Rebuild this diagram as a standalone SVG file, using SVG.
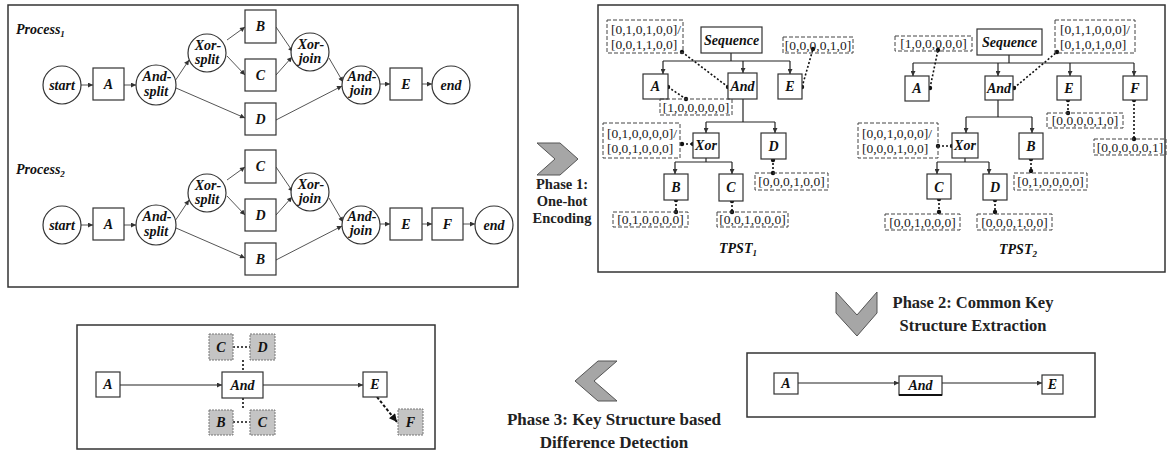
<svg xmlns="http://www.w3.org/2000/svg" width="1168" height="455" viewBox="0 0 1168 455">
<style>
.pnl{fill:#fff;stroke:#333;stroke-width:1.5}
.nd{fill:#fff;stroke:#333;stroke-width:1.2}
.gn{fill:#c4c4c4;stroke:#777;stroke-width:1;stroke-dasharray:2,1}
.t{font-family:"Liberation Serif",serif;font-weight:bold;font-style:italic;font-size:14px;text-anchor:middle;fill:#111}
.lb{font-family:"Liberation Serif",serif;font-size:13.5px;fill:#222}
.c{text-anchor:middle}
.db{fill:none;stroke:#444;stroke-dasharray:4,2;stroke-width:1}
.dl{stroke:#111;stroke-width:1.6;stroke-dasharray:2,2;fill:none}
.ar{stroke:#555;stroke-width:1;fill:none;marker-end:url(#ah)}
.tr{stroke:#222;stroke-width:1.2;fill:none}
.ta{stroke:#222;stroke-width:1.2;fill:none;marker-end:url(#ah)}
.ph{font-family:"Liberation Serif",serif;font-weight:bold;text-anchor:middle;fill:#222}
.chev{fill:#a6a6a6;stroke:#555;stroke-width:1}
.dot{fill:#111}
</style>
<defs>
<marker id="ah" viewBox="0 0 6 6" refX="6" refY="3" markerWidth="6" markerHeight="5" orient="auto" markerUnits="userSpaceOnUse"><path d="M0,0 L6,3 L0,6 z" fill="#333"/></marker>
<marker id="ahb" viewBox="0 0 8 8" refX="8" refY="4" markerWidth="9" markerHeight="8" orient="auto" markerUnits="userSpaceOnUse"><path d="M0,0 L8,4 L0,8 z" fill="#111"/></marker>
</defs>

<!-- Panels -->
<rect class="pnl" x="8" y="5" width="510" height="282"/>
<rect class="pnl" x="598" y="5" width="567" height="267"/>
<rect class="pnl" x="77" y="325" width="358" height="124"/>
<rect class="pnl" x="747" y="353" width="348" height="64"/>

<!-- Chevrons -->
<polygon class="chev" points="537,143 560,143 578,159 560,175 537,175 555,159"/>
<polygon class="chev" points="836,292 857,315 877,292 877,313 857,336 836,313"/>
<polygon class="chev" points="575,381 598,361 617,361 594,381 617,401 598,401"/>

<!-- Phase texts -->
<g id="phase1" class="ph" font-size="14.5px">
<text x="562" y="189">Phase 1:</text>
<text x="562" y="206">One-hot</text>
<text x="562" y="223">Encoding</text>
</g>
<g id="phase2" class="ph" font-size="16.5px">
<text x="973" y="308">Phase 2: Common Key</text>
<text x="973" y="331">Structure Extraction</text>
</g>
<g id="phase3" class="ph" font-size="17px">
<text x="614" y="425">Phase 3: Key Structure based</text>
<text x="614" y="448">Difference Detection</text>
</g>

<!-- Process labels -->
<text class="t" x="16" y="34" style="text-anchor:start" font-size="13">Process<tspan font-size="9" dy="3">1</tspan></text>
<text class="t" x="16" y="174" style="text-anchor:start" font-size="13">Process<tspan font-size="9" dy="3">2</tspan></text>

<!-- Process 1 connectors -->
<g id="p1-connectors">
<line class="ar" x1="81" y1="85" x2="93" y2="85"/>
<line class="ar" x1="124" y1="85" x2="136" y2="85"/>
<line class="ar" x1="175" y1="81" x2="189" y2="60"/>
<line class="ar" x1="227" y1="40" x2="245" y2="27"/>
<line class="ar" x1="227" y1="56" x2="245" y2="75"/>
<line class="ar" x1="176" y1="88" x2="245" y2="118"/>
<line class="ar" x1="276" y1="27" x2="293" y2="52"/>
<line class="ar" x1="276" y1="75" x2="292" y2="57"/>
<line class="ar" x1="329" y1="58" x2="343" y2="82"/>
<line class="ar" x1="276" y1="120" x2="342" y2="86"/>
<line class="ar" x1="380" y1="84" x2="390" y2="84"/>
<line class="ar" x1="422" y1="84" x2="432" y2="84"/>
</g>
<!-- Process 1 nodes -->
<g id="p1-start"><circle class="nd" cx="62" cy="85" r="19"/><text class="t" x="62" y="90">start</text></g>
<g id="p1-A"><rect class="nd" x="93" y="68" width="31" height="32"/><text class="t" x="108.5" y="89">A</text></g>
<g id="p1-andsplit"><circle class="nd" cx="156" cy="85" r="20"/><text class="t" x="157" y="81">And-</text><text class="t" x="156" y="96">split</text></g>
<g id="p1-xorsplit"><circle class="nd" cx="207" cy="53" r="19"/><text class="t" x="208" y="50">Xor-</text><text class="t" x="207" y="64">split</text></g>
<g id="p1-B"><rect class="nd" x="245" y="10" width="31" height="33"/><text class="t" x="260.5" y="31">B</text></g>
<g id="p1-C"><rect class="nd" x="245" y="59" width="31" height="32"/><text class="t" x="260.5" y="80">C</text></g>
<g id="p1-D"><rect class="nd" x="245" y="103" width="31" height="32"/><text class="t" x="260.5" y="124">D</text></g>
<g id="p1-xorjoin"><circle class="nd" cx="310" cy="52" r="19"/><text class="t" x="311" y="49">Xor-</text><text class="t" x="310" y="63">join</text></g>
<g id="p1-andjoin"><circle class="nd" cx="361" cy="85" r="19"/><text class="t" x="362" y="81">And-</text><text class="t" x="361" y="95">join</text></g>
<g id="p1-E"><rect class="nd" x="390" y="68" width="32" height="32"/><text class="t" x="406" y="89">E</text></g>
<g id="p1-end"><circle class="nd" cx="451" cy="85" r="19"/><text class="t" x="451" y="90">end</text></g>

<!-- Process 2 connectors -->
<g id="p2-connectors">
<line class="ar" x1="81" y1="225" x2="93" y2="225"/>
<line class="ar" x1="124" y1="225" x2="136" y2="225"/>
<line class="ar" x1="175" y1="221" x2="189" y2="200"/>
<line class="ar" x1="227" y1="180" x2="245" y2="167"/>
<line class="ar" x1="227" y1="196" x2="245" y2="215"/>
<line class="ar" x1="176" y1="228" x2="245" y2="258"/>
<line class="ar" x1="276" y1="167" x2="293" y2="192"/>
<line class="ar" x1="276" y1="215" x2="292" y2="197"/>
<line class="ar" x1="329" y1="198" x2="343" y2="222"/>
<line class="ar" x1="276" y1="260" x2="342" y2="226"/>
<line class="ar" x1="380" y1="224" x2="390" y2="224"/>
<line class="ar" x1="422" y1="224" x2="432" y2="224"/>
<line class="ar" x1="463" y1="224" x2="475" y2="224"/>
</g>
<!-- Process 2 nodes -->
<g id="p2-start"><circle class="nd" cx="62" cy="225" r="19"/><text class="t" x="62" y="230">start</text></g>
<g id="p2-A"><rect class="nd" x="93" y="208" width="31" height="32"/><text class="t" x="108.5" y="229">A</text></g>
<g id="p2-andsplit"><circle class="nd" cx="156" cy="225" r="20"/><text class="t" x="157" y="221">And-</text><text class="t" x="156" y="236">split</text></g>
<g id="p2-xorsplit"><circle class="nd" cx="207" cy="193" r="19"/><text class="t" x="208" y="190">Xor-</text><text class="t" x="207" y="204">split</text></g>
<g id="p2-C"><rect class="nd" x="245" y="150" width="31" height="33"/><text class="t" x="260.5" y="171">C</text></g>
<g id="p2-D"><rect class="nd" x="245" y="199" width="31" height="32"/><text class="t" x="260.5" y="220">D</text></g>
<g id="p2-B"><rect class="nd" x="245" y="243" width="31" height="32"/><text class="t" x="260.5" y="264">B</text></g>
<g id="p2-xorjoin"><circle class="nd" cx="310" cy="192" r="19"/><text class="t" x="311" y="189">Xor-</text><text class="t" x="310" y="203">join</text></g>
<g id="p2-andjoin"><circle class="nd" cx="361" cy="225" r="19"/><text class="t" x="362" y="221">And-</text><text class="t" x="361" y="235">join</text></g>
<g id="p2-E"><rect class="nd" x="390" y="208" width="32" height="32"/><text class="t" x="406" y="229">E</text></g>
<g id="p2-F"><rect class="nd" x="432" y="208" width="31" height="32"/><text class="t" x="447.5" y="229">F</text></g>
<g id="p2-end"><circle class="nd" cx="494" cy="225" r="19"/><text class="t" x="494" y="230">end</text></g>

<!-- TPST1 connectors -->
<g id="tpst1-connectors">
<polyline class="tr" points="731,53 731,61"/>
<line class="tr" x1="663" y1="61" x2="790" y2="61"/>
<line class="ta" x1="663" y1="61" x2="663" y2="74"/>
<line class="ta" x1="743" y1="61" x2="743" y2="73"/>
<line class="ta" x1="790" y1="61" x2="790" y2="74"/>
<line class="tr" x1="743" y1="99" x2="743" y2="122"/>
<line class="tr" x1="706" y1="122" x2="775" y2="122"/>
<line class="ta" x1="706" y1="122" x2="706" y2="133"/>
<line class="ta" x1="775" y1="122" x2="775" y2="133"/>
<line class="tr" x1="706" y1="158" x2="706" y2="162"/>
<line class="tr" x1="675" y1="162" x2="732" y2="162"/>
<line class="ta" x1="675" y1="162" x2="675" y2="174"/>
<line class="ta" x1="732" y1="162" x2="732" y2="174"/>
<line class="dl" x1="682" y1="52" x2="728" y2="87"/>
<line class="dl" x1="802" y1="87" x2="813" y2="49"/>
<line class="dl" x1="668" y1="87" x2="686" y2="99"/>
<line class="dl" x1="682" y1="144" x2="693" y2="144"/>
<line class="dl" x1="773" y1="159" x2="773" y2="173"/>
<line class="dl" x1="676" y1="200" x2="676" y2="212"/>
<line class="dl" x1="732" y1="201" x2="732" y2="212"/>
<g class="dot">
<circle cx="682" cy="52" r="2.2"/><circle cx="728" cy="87" r="2.2"/>
<circle cx="802" cy="87" r="2.2"/><circle cx="813" cy="49" r="2.2"/>
<circle cx="668" cy="87" r="2.2"/><circle cx="686" cy="99" r="2.2"/>
<circle cx="682" cy="144" r="2.2"/><circle cx="693" cy="144" r="2.2"/>
<circle cx="773" cy="160" r="2.2"/><circle cx="773" cy="173" r="2.2"/>
<circle cx="676" cy="200" r="2.2"/><circle cx="676" cy="212" r="2.2"/>
<circle cx="732" cy="201" r="2.2"/><circle cx="732" cy="212" r="2.2"/>
</g>
</g>
<!-- TPST1 nodes -->
<g id="t1-seq"><rect class="nd" x="701" y="27" width="61" height="26"/><text class="t" x="731.5" y="45" font-size="13.5">Sequence</text></g>
<g id="t1-A"><rect class="nd" x="643" y="74" width="25" height="25"/><text class="t" x="655.5" y="91">A</text></g>
<g id="t1-And"><rect class="nd" x="728" y="73" width="29" height="26"/><text class="t" x="742.5" y="91">And</text></g>
<g id="t1-E"><rect class="nd" x="778" y="74" width="24" height="25"/><text class="t" x="790" y="91">E</text></g>
<g id="t1-Xor"><rect class="nd" x="693" y="133" width="26" height="25"/><text class="t" x="706" y="150">Xor</text></g>
<g id="t1-D"><rect class="nd" x="761" y="133" width="25" height="26"/><text class="t" x="773.5" y="151">D</text></g>
<g id="t1-B"><rect class="nd" x="664" y="174" width="24" height="26"/><text class="t" x="676" y="192">B</text></g>
<g id="t1-C"><rect class="nd" x="719" y="174" width="24" height="27"/><text class="t" x="731" y="192">C</text></g>
<g id="t1-labels">
<rect class="db" x="607" y="20" width="76" height="33"/><text class="lb" x="611" y="34">[0,1,0,1,0,0]/</text><text class="lb" x="611" y="49">[0,0,1,1,0,0]</text>
<rect class="db" x="783" y="37" width="70" height="16"/><text class="lb c" x="818" y="50">[0,0,0,0,1,0]</text>
<rect class="db" x="660" y="99" width="72" height="16"/><text class="lb c" x="696" y="112">[1,0,0,0,0,0]</text>
<rect class="db" x="603" y="123" width="77" height="35"/><text class="lb" x="607" y="138">[0,1,0,0,0,0]/</text><text class="lb" x="607" y="153">[0,0,1,0,0,0]</text>
<rect class="db" x="755" y="173" width="73" height="17"/><text class="lb c" x="791.5" y="186">[0,0,0,1,0,0]</text>
<rect class="db" x="613" y="212" width="75" height="15"/><text class="lb c" x="650.5" y="224">[0,1,0,0,0,0]</text>
<rect class="db" x="717" y="212" width="71" height="15"/><text class="lb c" x="752.5" y="224">[0,0,1,0,0,0]</text>
</g>
<text class="t" x="738" y="253">TPST<tspan font-size="9" dy="3">1</tspan></text>

<!-- TPST2 connectors -->
<g id="tpst2-connectors">
<line class="tr" x1="1009" y1="55" x2="1009" y2="63"/>
<line class="tr" x1="913" y1="63" x2="1134" y2="63"/>
<line class="ta" x1="913" y1="63" x2="913" y2="76"/>
<line class="ta" x1="998" y1="63" x2="998" y2="76"/>
<line class="ta" x1="1070" y1="63" x2="1070" y2="76"/>
<line class="ta" x1="1134" y1="63" x2="1134" y2="76"/>
<line class="tr" x1="998" y1="100" x2="998" y2="117"/>
<line class="tr" x1="966" y1="117" x2="1032" y2="117"/>
<line class="ta" x1="966" y1="117" x2="966" y2="133"/>
<line class="ta" x1="1032" y1="117" x2="1032" y2="133"/>
<line class="tr" x1="965" y1="158" x2="965" y2="162"/>
<line class="tr" x1="937" y1="162" x2="989" y2="162"/>
<line class="ta" x1="937" y1="162" x2="937" y2="174"/>
<line class="ta" x1="989" y1="162" x2="989" y2="174"/>
<line class="dl" x1="930" y1="88" x2="938" y2="50"/>
<line class="dl" x1="1014" y1="88" x2="1057" y2="52"/>
<line class="dl" x1="1068" y1="100" x2="1068" y2="113"/>
<line class="dl" x1="1134" y1="100" x2="1134" y2="139"/>
<line class="dl" x1="938" y1="146" x2="952" y2="146"/>
<line class="dl" x1="1031" y1="159" x2="1031" y2="173"/>
<line class="dl" x1="939" y1="199" x2="939" y2="214"/>
<line class="dl" x1="995" y1="200" x2="995" y2="214"/>
<g class="dot">
<circle cx="930" cy="88" r="2.2"/><circle cx="938" cy="50" r="2.2"/>
<circle cx="1014" cy="88" r="2.2"/><circle cx="1057" cy="52" r="2.2"/>
<circle cx="1068" cy="100" r="2.2"/><circle cx="1068" cy="113" r="2.2"/>
<circle cx="1134" cy="100" r="2.2"/><circle cx="1134" cy="139" r="2.2"/>
<circle cx="938" cy="146" r="2.2"/><circle cx="952" cy="146" r="2.2"/>
<circle cx="1031" cy="159" r="2.2"/><circle cx="1031" cy="171" r="2.2"/>
<circle cx="939" cy="199" r="2.2"/><circle cx="939" cy="212" r="2.2"/>
<circle cx="995" cy="200" r="2.2"/><circle cx="995" cy="212" r="2.2"/>
</g>
</g>
<!-- TPST2 nodes -->
<g id="t2-seq"><rect class="nd" x="977" y="29" width="65" height="26"/><text class="t" x="1009.5" y="47" font-size="13.5">Sequence</text></g>
<g id="t2-A"><rect class="nd" x="905" y="76" width="24" height="25"/><text class="t" x="917" y="93">A</text></g>
<g id="t2-And"><rect class="nd" x="985" y="76" width="28" height="24"/><text class="t" x="999" y="93">And</text></g>
<g id="t2-E"><rect class="nd" x="1057" y="76" width="24" height="24"/><text class="t" x="1069" y="93">E</text></g>
<g id="t2-F"><rect class="nd" x="1123" y="76" width="24" height="24"/><text class="t" x="1135" y="93">F</text></g>
<g id="t2-Xor"><rect class="nd" x="952" y="133" width="26" height="25"/><text class="t" x="965" y="150">Xor</text></g>
<g id="t2-B"><rect class="nd" x="1019" y="133" width="24" height="26"/><text class="t" x="1031" y="151">B</text></g>
<g id="t2-C"><rect class="nd" x="927" y="174" width="24" height="25"/><text class="t" x="939" y="192">C</text></g>
<g id="t2-D"><rect class="nd" x="983" y="174" width="24" height="26"/><text class="t" x="995" y="192">D</text></g>
<g id="t2-labels">
<rect class="db" x="895" y="36" width="77" height="15"/><text class="lb c" x="933.5" y="48">[1,0,0,0,0,0]</text>
<rect class="db" x="1055" y="20" width="80" height="33"/><text class="lb" x="1060" y="34">[0,1,1,0,0,0]/</text><text class="lb" x="1060" y="49">[0,1,0,1,0,0]</text>
<rect class="db" x="1047" y="113" width="76" height="15"/><text class="lb c" x="1085" y="125">[0,0,0,0,1,0]</text>
<rect class="db" x="1094" y="139" width="72" height="16"/><text class="lb c" x="1130" y="152">[0,0,0,0,0,1]</text>
<rect class="db" x="858" y="123" width="80" height="35"/><text class="lb" x="862" y="138">[0,0,1,0,0,0]/</text><text class="lb" x="862" y="153">[0,0,0,1,0,0]</text>
<rect class="db" x="1014" y="173" width="73" height="17"/><text class="lb c" x="1050.5" y="186">[0,1,0,0,0,0]</text>
<rect class="db" x="885" y="214" width="75" height="16"/><text class="lb c" x="922.5" y="227">[0,0,1,0,0,0]</text>
<rect class="db" x="977" y="214" width="75" height="16"/><text class="lb c" x="1014.5" y="227">[0,0,0,1,0,0]</text>
</g>
<text class="t" x="1018" y="254">TPST<tspan font-size="9" dy="3">2</tspan></text>

<!-- Phase 3 result panel -->
<g id="r3-connectors">
<line class="ta" x1="120" y1="385" x2="222" y2="385"/>
<line class="ta" x1="263" y1="385" x2="363" y2="385"/>
<line class="dl" x1="233" y1="347" x2="250" y2="347" stroke-width="1.2"/>
<line class="dl" x1="243" y1="360" x2="243" y2="372"/>
<line class="dl" x1="243" y1="398" x2="243" y2="410"/>
<line class="dl" x1="233" y1="422" x2="250" y2="422" stroke-width="1.2"/>
<line x1="377" y1="397" x2="397" y2="422" stroke="#111" stroke-width="2" stroke-dasharray="3,2" marker-end="url(#ahb)"/>
</g>
<g id="r3-A"><rect class="nd" x="96" y="372" width="24" height="25"/><text class="t" x="108" y="389" font-size="13">A</text></g>
<g id="r3-And"><rect class="nd" x="222" y="372" width="41" height="26"/><text class="t" x="242.5" y="390" font-size="13">And</text></g>
<g id="r3-E"><rect class="nd" x="363" y="372" width="24" height="25"/><text class="t" x="375" y="389" font-size="13">E</text></g>
<g id="r3-C1"><rect class="gn" x="209" y="334" width="24" height="26"/><text class="t" x="221" y="352" font-size="13">C</text></g>
<g id="r3-D"><rect class="gn" x="250" y="334" width="25" height="26"/><text class="t" x="262.5" y="352" font-size="13">D</text></g>
<g id="r3-B"><rect class="gn" x="209" y="410" width="24" height="25"/><text class="t" x="221" y="427" font-size="13">B</text></g>
<g id="r3-C2"><rect class="gn" x="250" y="410" width="25" height="25"/><text class="t" x="262.5" y="427" font-size="13">C</text></g>
<g id="r3-F"><rect class="gn" x="398" y="409" width="25" height="26"/><text class="t" x="410.5" y="427" font-size="13">F</text></g>

<!-- Phase 2 result panel -->
<g id="r2-connectors">
<line class="ta" x1="798" y1="383" x2="899" y2="383"/>
<line class="ta" x1="942" y1="383" x2="1042" y2="383"/>
</g>
<g id="r2-A"><rect class="nd" x="774" y="373" width="24" height="21"/><text class="t" x="786" y="388" font-size="12.5">A</text></g>
<g id="r2-And"><rect class="nd" x="899" y="376" width="43" height="19"/><line x1="899" y1="395" x2="942" y2="395" stroke="#111" stroke-width="2"/><text class="t" x="920.5" y="390" font-size="12.5">And</text></g>
<g id="r2-E"><rect class="nd" x="1042" y="375" width="21" height="19"/><text class="t" x="1052.5" y="389" font-size="12.5">E</text></g>
</svg>
